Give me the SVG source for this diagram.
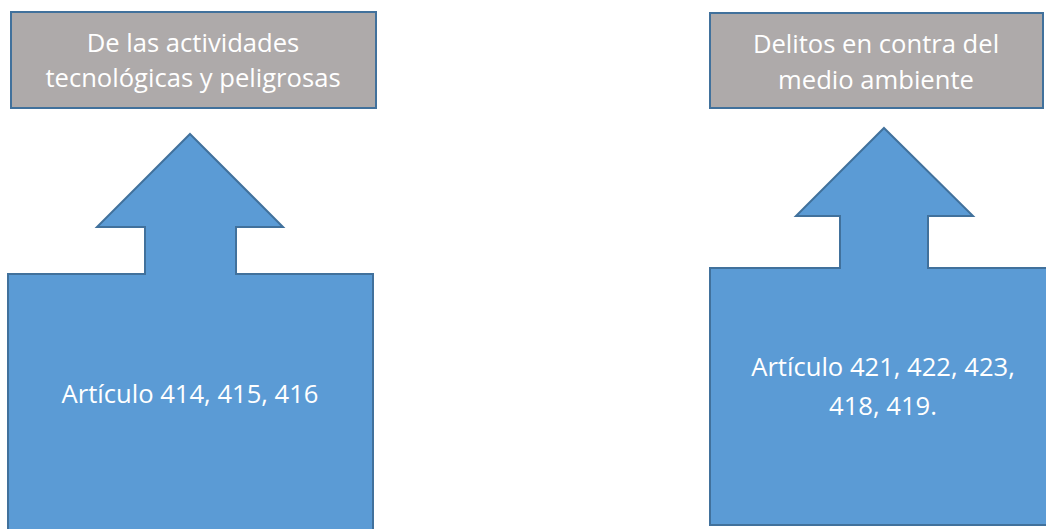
<svg xmlns="http://www.w3.org/2000/svg" width="1046" height="529" viewBox="0 0 1046 529">
<style>
.title{fill:#aeaaaa;stroke:#41719c;stroke-width:2}
.shape{fill:#5b9bd5;stroke:#41719c;stroke-width:2;stroke-linejoin:miter}
text{font-family:"Open Sans","Noto Sans",sans-serif;font-size:25.6px;fill:#ffffff;text-anchor:middle}
</style>
<rect width="1046" height="529" fill="#ffffff"/>
<g id="title-left">
<rect class="title" x="11" y="12" width="365" height="96"/>
<text x="193" y="52">De las actividades</text>
<text x="193" y="87">tecnológicas y peligrosas</text>
</g>
<g id="title-right">
<rect class="title" x="710" y="13" width="333" height="95"/>
<text x="876" y="53">Delitos en contra del</text>
<text x="876" y="89">medio ambiente</text>
</g>
<g id="arrow-left">
<path class="shape" d="M190,134 L283,227 L236,227 L236,274 L373,274 L373,535 L8,535 L8,274 L145,274 L145,227 L97,227 Z"/>
<text x="190" y="403">Artículo 414, 415, 416</text>
</g>
<g id="arrow-right">
<path class="shape" d="M884,128 L973,216 L928,216 L928,268 L1052,268 L1052,525 L710,525 L710,268 L840,268 L840,216 L796,216 Z"/>
<text x="883" y="376">Artículo 421, 422, 423,</text>
<text x="883" y="415">418, 419.</text>
</g>
<g id="connectors"></g>
</svg>
